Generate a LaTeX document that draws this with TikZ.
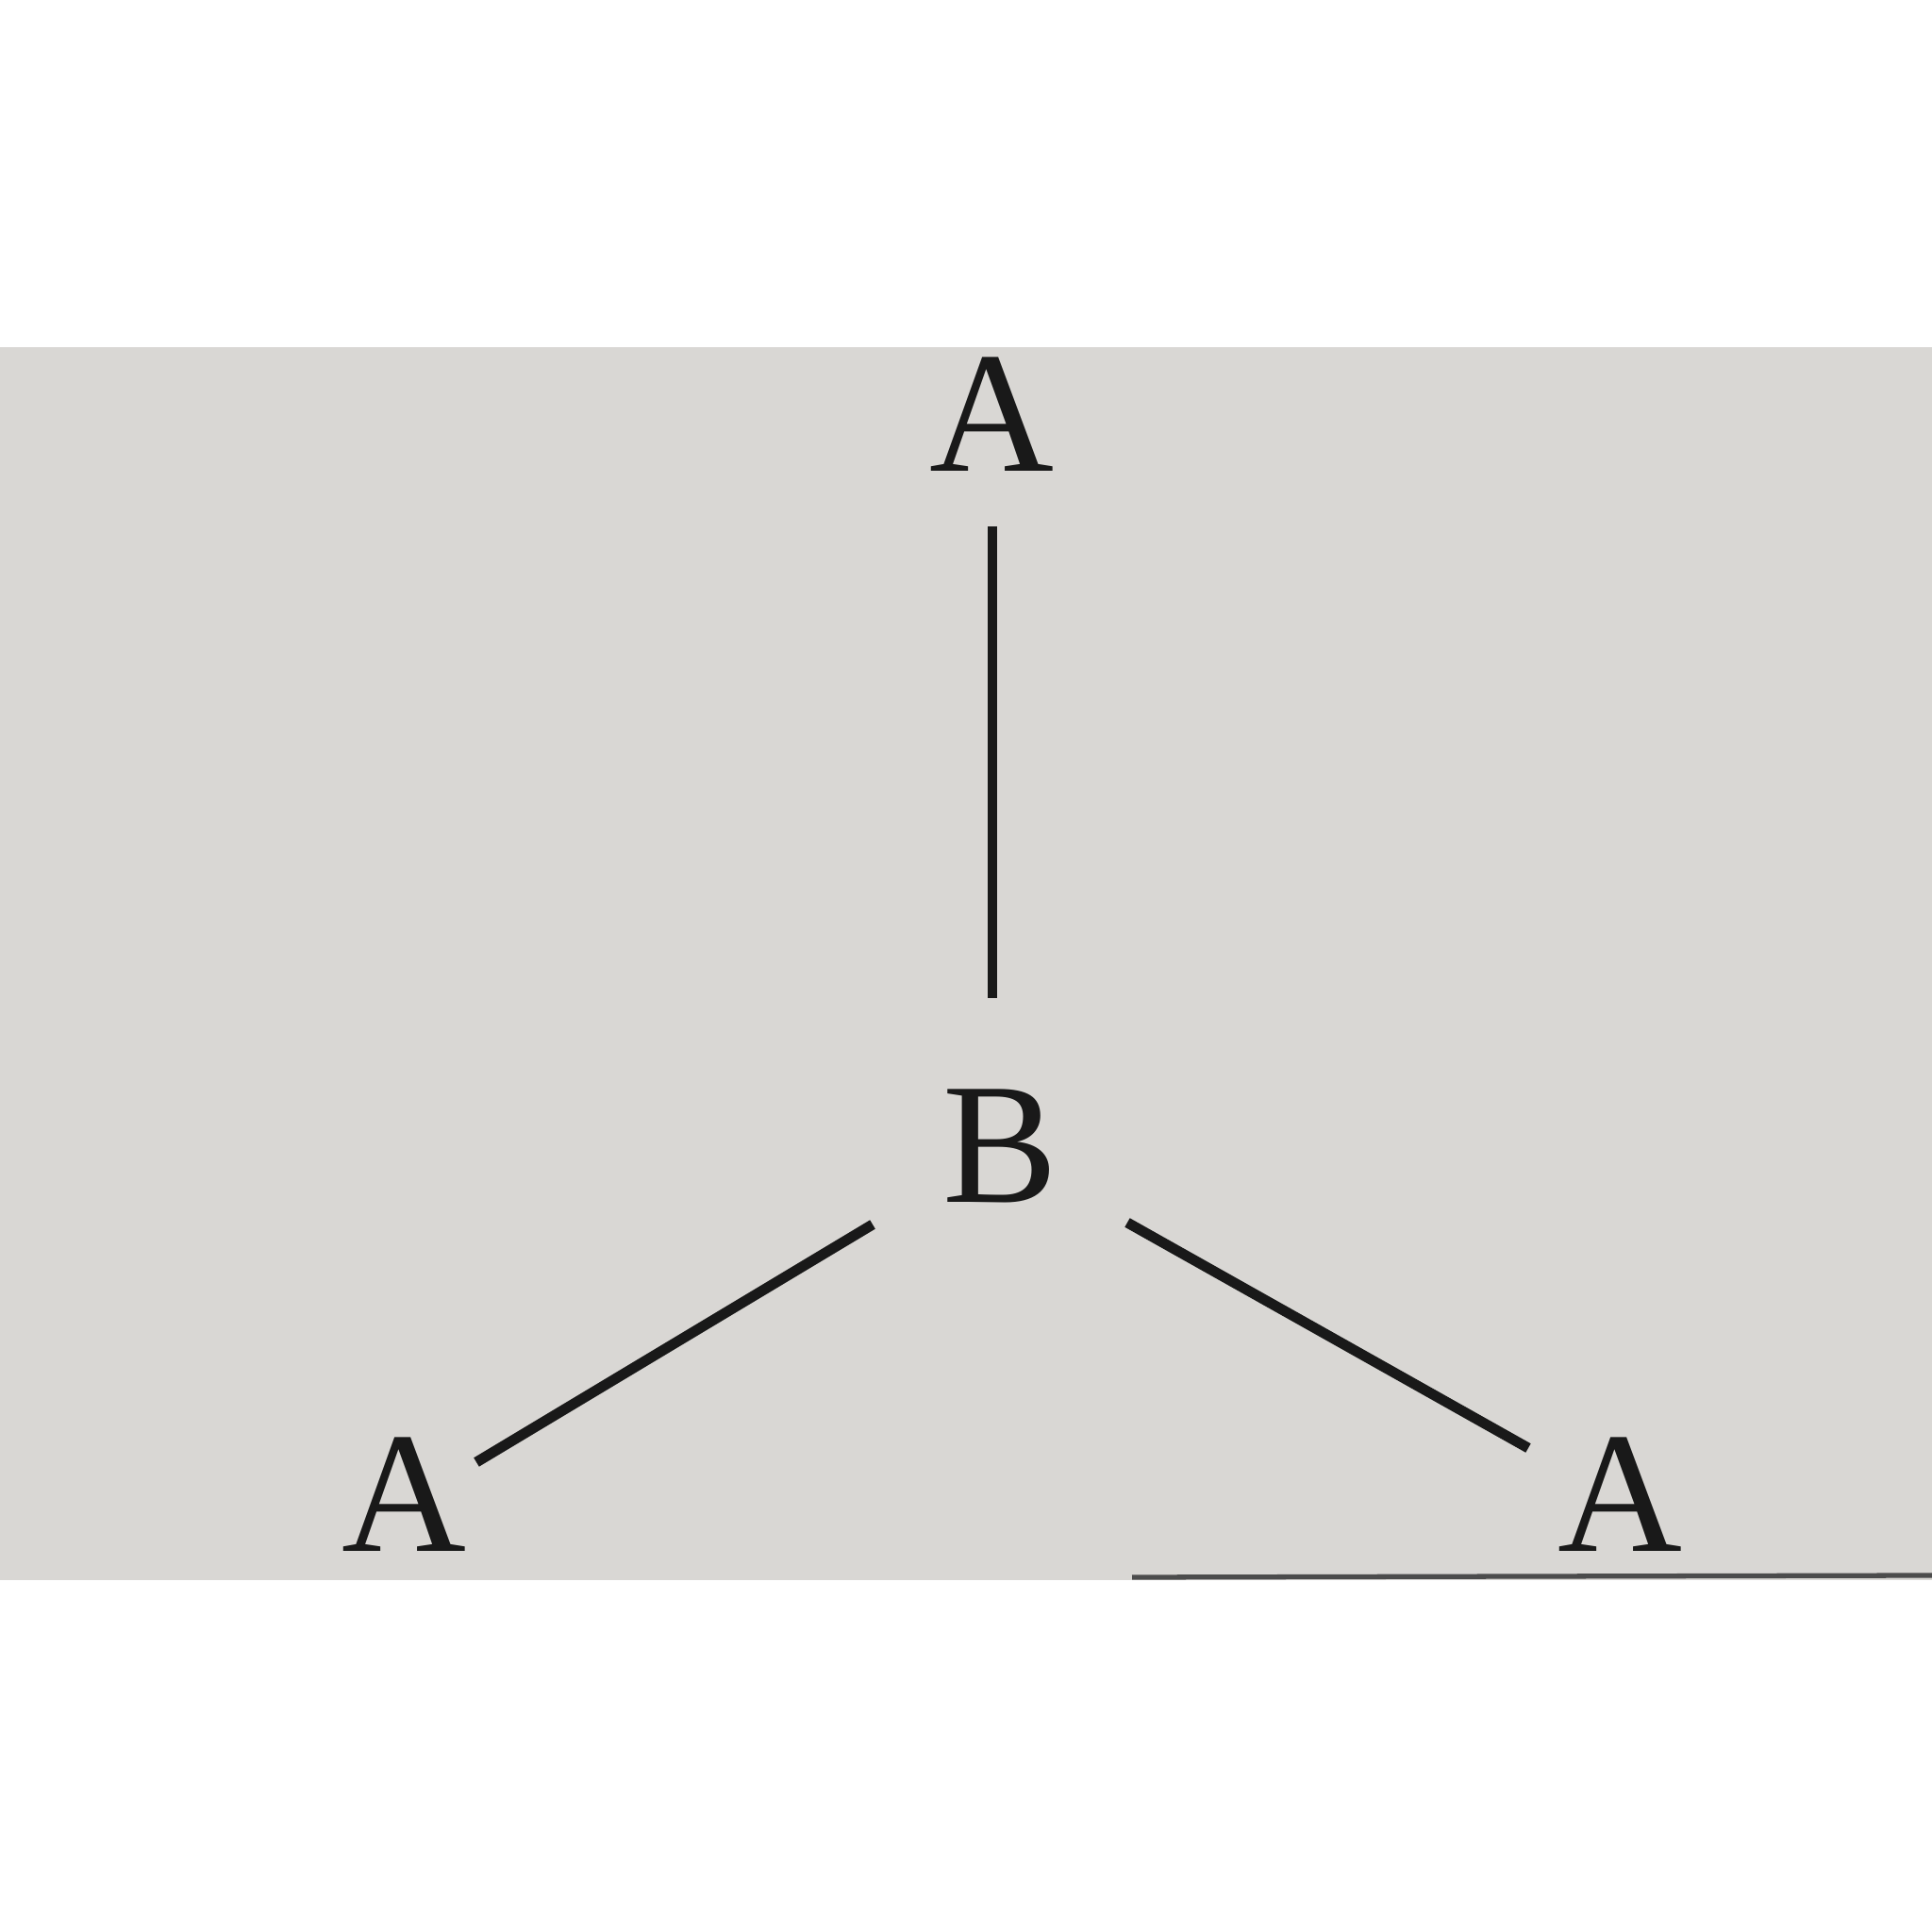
\documentclass[tikz,border=0pt]{standalone}
\usepackage{fontspec}
\setmainfont{Liberation Serif}
\begin{document}
\begin{tikzpicture}[x=1cm,y=1cm,
  lbl/.style={anchor=base,inner sep=0pt,font=\fontsize{52}{60}\selectfont,text=black!90},
  bond/.style={line width=3.1pt,black!90}]
\useasboundingbox (0,0) rectangle (20.48,20.48);
\fill[white] (0,0) rectangle (20.48,20.48);
\fill[fill={rgb,255:red,217;green,215;blue,212}] (0,3.73) rectangle (20.48,16.80);
\draw[line width=1.5pt,black!70] (12,3.76) -- (20.48,3.78);
\node[lbl] (At) at (10.51,15.48) {A};
\node[lbl] (B) at (10.60,7.73) {B};
\node[lbl] (Al) at (4.28,4.03) {A};
\node[lbl] (Ar) at (17.17,4.03) {A};
\coordinate (t1) at (10.52,14.90);
\coordinate (t2) at (10.52,9.90);
\coordinate (l1) at (9.25,7.50);
\coordinate (l2) at (5.05,4.98);
\coordinate (r1) at (11.95,7.52);
\coordinate (r2) at (16.20,5.13);
\draw[bond] (t1) -- (t2);
\draw[bond] (l1) -- (l2);
\draw[bond] (r1) -- (r2);
\end{tikzpicture}
\end{document}
